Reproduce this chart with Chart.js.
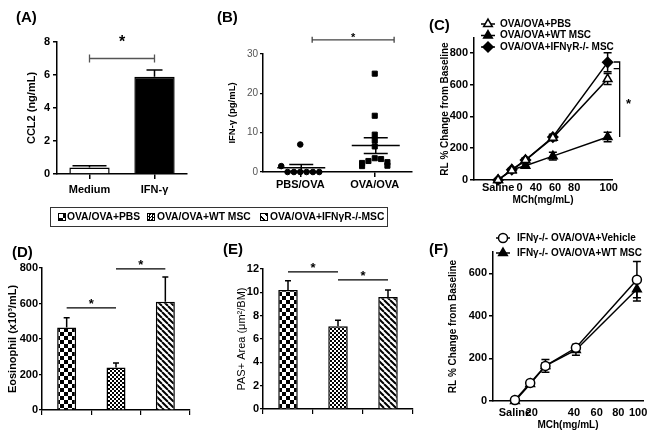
<!DOCTYPE html>
<html>
<head>
<meta charset="utf-8">
<script src="https://cdn.jsdelivr.net/npm/chart.js@4"></script>
<style>
body { margin: 0; background: #fff; width: 654px; height: 439px; position: relative; overflow: hidden; font-family: "Liberation Sans", Arial, sans-serif; }
canvas { position: absolute; }
.tag { position: absolute; font-weight: bold; font-size: 15px; line-height: 15px; }
#key { position: absolute; left: 50px; top: 207px; width: 336px; height: 18px; border: 1px solid #333; font-weight: bold; font-size: 10.3px; white-space: nowrap; }
#key span { position: absolute; top: 3px; line-height: 12px; }
#key i { position: absolute; top: 5px; width: 6px; height: 6px; border: 1px solid #000; }
.k1 { background: conic-gradient(#000 0 25%, #fff 0 50%, #000 0 75%, #fff 0) 0 0/8px 8px; }
.k2 { background: conic-gradient(#000 0 25%, #fff 0 50%, #000 0 75%, #fff 0) 0 0/3px 3px; }
.k3 { background: repeating-linear-gradient(45deg, #fff 0 2px, #000 2px 3.5px, #fff 3.5px 5px); }
</style>
</head>
<body>
<canvas id="chartA"></canvas>
<canvas id="chartB"></canvas>
<canvas id="chartC"></canvas>
<canvas id="chartD"></canvas>
<canvas id="chartE"></canvas>
<canvas id="chartF"></canvas>

<div class="tag" style="left:16px;top:9px">(A)</div>
<div class="tag" style="left:217px;top:9px">(B)</div>
<div class="tag" style="left:429px;top:17px">(C)</div>
<div class="tag" style="left:12px;top:244px">(D)</div>
<div class="tag" style="left:223px;top:241px">(E)</div>
<div class="tag" style="left:429px;top:241px">(F)</div>

<div id="key">
  <i class="k1" style="left:7px"></i><span style="left:16px">OVA/OVA+PBS</span>
  <i class="k2" style="left:96px"></i><span style="left:106px">OVA/OVA+WT MSC</span>
  <i class="k3" style="left:209px"></i><span style="left:219px">OVA/OVA+IFNγR-/-MSC</span>
</div>

<script>
// (A) CCL2
const aLabels = ["Medium", "IFN-γ"];
const aValues = [0.4, 5.9];
const aErr = [0.1, 0.4];

// (B) IFN-γ dot plot
const bLabels = ["PBS/OVA", "OVA/OVA"];
const bPbs = [7, 0, 0, 0, 0, 0, 0, 1.5];
const bOva = [25, 14.3, 9.5, 8, 6.5, 3.5, 3.3, 2.8, 2.5, 2.3, 1.6, 1.5];

// (C) airway resistance
const cDose = [0, 12.5, 25, 50, 100];
const cPbs = [0, 60, 125, 265, 635];
const cPbsErr = [0, 8, 12, 18, 35];
const cWt = [0, 65, 90, 150, 270];
const cWtErr = [0, 8, 10, 25, 30];
const cKo = [0, 65, 125, 270, 740];
const cKoErr = [0, 8, 12, 18, 60];
const cTicks = [0, 19.5, 34.5, 52, 69.5, 101];
const cTickText = ["Saline", "0", "40", "60", "80", "100"];

// (D) (E) groups
const groups = ["OVA/OVA+PBS", "OVA/OVA+WT MSC", "OVA/OVA+IFNγR-/-MSC"];
const dValues = [465, 240, 610];
const dErr = [55, 25, 140];
const eValues = [10.2, 7.1, 9.6];
const eErr = [0.8, 0.5, 0.6];

// (F) IFNγ-/- mice
const fDose = [0, 12.5, 25, 50, 100];
const fVeh = [5, 85, 165, 250, 570];
const fVehErr = [0, 10, 15, 15, 85];
const fWt = [0, 80, 165, 240, 525];
const fWtErr = [0, 10, 30, 25, 55];
const fTicks = [0, 13.7, 48.4, 67, 84.7, 101];
const fTickText = ["Saline", "20", "40", "60", "80", "100"];

const FAM = "'Liberation Sans', Arial, sans-serif";
const font = (size, weight) => ({ family: FAM, size: size, weight: weight || "bold" });
Chart.defaults.font.family = FAM;
Chart.defaults.color = "#000";

function pattern(size, draw) {
    const c = document.createElement("canvas");
    c.width = c.height = size;
    const g = c.getContext("2d");
    g.fillStyle = "#fff"; g.fillRect(0, 0, size, size);
    g.fillStyle = "#000"; g.strokeStyle = "#000";
    draw(g, size);
    return g.createPattern(c, "repeat");
}
const checker = pattern(8, g => { g.fillRect(0, 0, 4, 4); g.fillRect(4, 4, 4, 4); });
const fine = pattern(4, g => { g.fillRect(0, 0, 2, 2); g.fillRect(2, 2, 2, 2); });
const stripes = pattern(6, (g, s) => {
    g.lineWidth = 2;
    [-s, 0, s].forEach(o => { g.beginPath(); g.moveTo(o, 0); g.lineTo(o + s, s); g.stroke(); });
});

function yOf(v) { return typeof v === "object" ? v.y : v; }

function drawErrors(chart, bars) {
    const ctx = chart.ctx, ys = chart.scales.y;
    chart.data.datasets.forEach((ds, di) => {
        if (!ds.err || (chart.config.type === "bar") !== bars) return;
        ctx.save();
        ctx.strokeStyle = "#000"; ctx.lineWidth = 1.5;
        chart.getDatasetMeta(di).data.forEach((el, i) => {
            const e = ds.err[i];
            if (!e) return;
            const v = yOf(ds.data[i]);
            const cap = Array.isArray(ds.cap) ? ds.cap[i] : (ds.cap || 3);
            const top = ys.getPixelForValue(v + e);
            const bot = ds.errBoth ? ys.getPixelForValue(v - e) : el.y;
            ctx.beginPath();
            ctx.moveTo(el.x, bot); ctx.lineTo(el.x, top);
            ctx.moveTo(el.x - cap, top); ctx.lineTo(el.x + cap, top);
            if (ds.errBoth) { ctx.moveTo(el.x - cap, bot); ctx.lineTo(el.x + cap, bot); }
            ctx.stroke();
        });
        ctx.restore();
    });
}

function star(ctx, x, y, size) {
    ctx.fillStyle = "#000";
    ctx.font = "bold " + size + "px " + FAM;
    ctx.textAlign = "center"; ctx.textBaseline = "alphabetic";
    ctx.fillText("*", x, y + size * 0.56);
}

const extras = {
    id: "extras",
    beforeDatasetsDraw(chart) { drawErrors(chart, false); },
    afterDatasetsDraw(chart, args, o) {
        drawErrors(chart, true);
        const ctx = chart.ctx, xs = chart.scales.x, ys = chart.scales.y;
        ctx.save();
        (o.brackets || []).forEach(b => {
            const x1 = xs.getPixelForValue(b.from), x2 = xs.getPixelForValue(b.to), yy = ys.getPixelForValue(b.at);
            ctx.strokeStyle = b.color || "#000"; ctx.lineWidth = 1.3;
            ctx.beginPath();
            ctx.moveTo(x1, yy); ctx.lineTo(x2, yy);
            if (b.ends) {
                ctx.moveTo(x1, yy - b.ends); ctx.lineTo(x1, yy + b.ends);
                ctx.moveTo(x2, yy - b.ends); ctx.lineTo(x2, yy + b.ends);
            }
            ctx.stroke();
            star(ctx, (x1 + x2) / 2, yy - b.lift, b.size);
        });
        if (o.vbracket) {
            const v = o.vbracket, xp = xs.getPixelForValue(v.x);
            ctx.strokeStyle = "#000"; ctx.lineWidth = 1.3;
            ctx.beginPath();
            ctx.moveTo(xp - v.armLen, ys.getPixelForValue(v.to));
            ctx.lineTo(xp, ys.getPixelForValue(v.to));
            ctx.lineTo(xp, ys.getPixelForValue(v.from));
            ctx.moveTo(xp - v.armLen, ys.getPixelForValue(v.arm));
            ctx.lineTo(xp, ys.getPixelForValue(v.arm));
            ctx.stroke();
            star(ctx, xs.getPixelForValue(v.starX), ys.getPixelForValue(v.starY), v.size);
        }
        if (o.meanSem) {
            chart.data.datasets.forEach((ds, di) => {
                const vals = ds.data.map(yOf), n = vals.length;
                const m = vals.reduce((a, b) => a + b, 0) / n;
                const sd = Math.sqrt(vals.reduce((a, b) => a + (b - m) * (b - m), 0) / (n - 1));
                const se = sd / Math.sqrt(n);
                const cx = xs.getPixelForValue(di + 1) + 1;
                const ym = ys.getPixelForValue(m), yt = ys.getPixelForValue(m + se), yb = ys.getPixelForValue(m - se);
                ctx.strokeStyle = "#000"; ctx.lineWidth = 1.5;
                ctx.beginPath();
                ctx.moveTo(cx - 24, ym); ctx.lineTo(cx + 24, ym);
                ctx.moveTo(cx, yt); ctx.lineTo(cx, yb);
                ctx.moveTo(cx - 12, yt); ctx.lineTo(cx + 12, yt);
                ctx.moveTo(cx - 12, yb); ctx.lineTo(cx + 12, yb);
                ctx.stroke();
            });
        }
        if (o.legend) {
            const L = o.legend;
            chart.data.datasets.forEach((ds, i) => {
                const x = L.x, y = L.y + i * L.gap;
                ctx.strokeStyle = "#000"; ctx.lineWidth = 1.5;
                ctx.beginPath(); ctx.moveTo(x - 7, y); ctx.lineTo(x + 7, y); ctx.stroke();
                ctx.fillStyle = ds.pointBackgroundColor;
                Chart.helpers.drawPoint(ctx, { pointStyle: ds.pointStyle, radius: ds.pointRadius, borderWidth: 1.5, rotation: 0 }, x, y);
                ctx.fillStyle = "#000";
                ctx.font = "bold " + L.size + "px " + FAM;
                ctx.textAlign = "left"; ctx.textBaseline = "middle";
                ctx.fillText(ds.label, x + L.text, y);
            });
        }
        ctx.restore();
    }
};
Chart.register(extras);

function axis(extra) {
    return Object.assign({
        grid: { drawOnChartArea: false, color: "#000", lineWidth: 1.5, tickLength: 4 },
        border: { color: "#000", width: 1.5 }
    }, extra);
}

function panel(id, box, area, cfg) {
    const cv = document.getElementById(id);
    cv.width = box.w; cv.height = box.h;
    cv.style.left = box.x + "px"; cv.style.top = box.y + "px";
    cfg.options.responsive = false;
    cfg.options.animation = false;
    cfg.options.layout = { padding: { left: 0, top: area.t - box.y, right: box.x + box.w - area.r, bottom: 0 } };
    cfg.options.plugins.legend = { display: false };
    cfg.options.plugins.tooltip = { enabled: false };
    cfg.options.scales.x.afterFit = s => { s.height = box.y + box.h - area.b; s.paddingLeft = 0; s.paddingRight = 0; };
    cfg.options.scales.y.afterFit = s => { s.width = area.l - box.x; s.paddingTop = 0; s.paddingBottom = 0; };
    return new Chart(cv, cfg);
}

function spread(vals, center, near, step) {
    const placed = [];
    return vals.map(v => {
        const k = placed.filter(p => Math.abs(p - v) < near).length;
        placed.push(v);
        return { x: center + Math.ceil(k / 2) * (k % 2 ? 1 : -1) * step, y: v };
    });
}

function lineSet(label, xs, ys, err, style, fill, r) {
    return {
        label: label, data: xs.map((x, i) => ({ x: x, y: ys[i] })), err: err, errBoth: true, cap: 4,
        borderColor: "#000", borderWidth: 1.5, tension: 0, clip: false,
        pointStyle: style, pointRadius: r, pointBackgroundColor: fill, pointBorderColor: "#000", pointBorderWidth: 1.5
    };
}

// (A)
panel("chartA", { x: 0, y: 0, w: 205, h: 205 }, { l: 57, t: 42, r: 187, b: 174 }, {
    type: "bar",
    data: { labels: aLabels, datasets: [{ data: aValues, err: aErr, cap: [17, 8],
        backgroundColor: ["#fff", "#000"], borderColor: "#000", borderWidth: 1.5,
        barPercentage: 0.62, categoryPercentage: 1 }] },
    options: {
        plugins: { extras: { brackets: [{ from: 0, to: 1, at: 7, ends: 4, color: "#555", lift: 20, size: 16 }] } },
        scales: {
            x: axis({ grid: { offset: false, drawOnChartArea: false, color: "#000", lineWidth: 1.5, tickLength: 5 },
                ticks: { font: font(11), color: "#000", padding: 4, maxRotation: 0 } }),
            y: axis({ min: 0, max: 8, ticks: { stepSize: 2, font: font(11), color: "#000", padding: 3 },
                title: { display: true, text: "CCL2 (ng/mL)", font: font(11), color: "#000", padding: { top: 25, bottom: 0 } } })
        }
    }
});

// (B)
panel("chartB", { x: 200, y: 0, w: 220, h: 205 }, { l: 263, t: 54, r: 412, b: 172 }, {
    type: "scatter",
    data: { datasets: [
        { data: spread(bPbs, 1, 1.6, 0.085), pointStyle: "circle", pointRadius: 2.8, backgroundColor: "#000", borderColor: "#000", clip: false },
        { data: spread(bOva, 2, 1.4, 0.085), pointStyle: "rect", pointRadius: 3.6, backgroundColor: "#000", borderColor: "#000", clip: false }
    ] },
    options: {
        plugins: { extras: { meanSem: true, brackets: [{ from: 1.16, to: 2.26, at: 33.6, ends: 3, color: "#444", lift: 5, size: 11 }] } },
        scales: {
            x: axis({ type: "linear", min: 0.5, max: 2.5,
                afterBuildTicks: s => { s.ticks = [{ value: 1 }, { value: 2 }]; },
                grid: { drawOnChartArea: false, color: "#000", lineWidth: 1.5, tickLength: 5 },
                ticks: { font: font(11), color: "#000", padding: 1, maxRotation: 0, autoSkip: false, callback: v => bLabels[v - 1] } }),
            y: axis({ min: 0, max: 30, grid: { drawOnChartArea: false, color: "#000", lineWidth: 1.2, tickLength: 3 },
                ticks: { stepSize: 10, font: font(10, "normal"), color: "#555", padding: 2 },
                title: { display: true, text: "IFN-γ (pg/mL)", font: font(9.5), color: "#000", padding: { top: 27, bottom: 0 } } })
        }
    }
});

// (C)
panel("chartC", { x: 420, y: 0, w: 234, h: 210 }, { l: 474, t: 38, r: 612, b: 180 }, {
    type: "line",
    data: { datasets: [
        lineSet("OVA/OVA+PBS", cDose, cPbs, cPbsErr, "triangle", "#fff", 5),
        lineSet("OVA/OVA+WT MSC", cDose, cWt, cWtErr, "triangle", "#000", 5),
        lineSet("OVA/OVA+IFNγR-/- MSC", cDose, cKo, cKoErr, "rectRot", "#000", 5)
    ] },
    options: {
        plugins: { extras: {
            legend: { x: 68, y: 24, gap: 11.5, size: 10, text: 12 },
            vbracket: { x: 111, from: 270, to: 742, arm: 700, armLen: 6, starX: 119, starY: 500, size: 13 }
        } },
        scales: {
            x: axis({ type: "linear", min: -22, max: 104,
                afterBuildTicks: s => { s.ticks = cTicks.map(v => ({ value: v })); },
                grid: { drawOnChartArea: false, drawTicks: false, color: "#000" },
                ticks: { font: font(11), color: "#000", padding: 1, maxRotation: 0, autoSkip: false, callback: (v, i) => cTickText[i] },
                title: { display: true, text: "MCh(mg/mL)", font: font(10), color: "#000", padding: { top: 0, bottom: 4 } } }),
            y: axis({ min: 0, max: 893, ticks: { stepSize: 200, includeBounds: false, font: font(11), color: "#000", padding: 2 },
                title: { display: true, text: "RL % Change from Baseline", font: font(10), color: "#000", padding: { top: 19, bottom: 0 } } })
        }
    }
});

// (D)
panel("chartD", { x: 0, y: 240, w: 205, h: 199 }, { l: 42, t: 268, r: 190, b: 410 }, {
    type: "bar",
    data: { labels: groups, datasets: [{ data: dValues, err: dErr, cap: 3,
        backgroundColor: [checker, fine, stripes], borderColor: "#000", borderWidth: 1.5,
        barPercentage: 0.385, categoryPercentage: 1 }] },
    options: {
        plugins: { extras: { brackets: [
            { from: 0, to: 1, at: 575, lift: 7, size: 13 },
            { from: 1, to: 2, at: 795, lift: 7, size: 13 }
        ] } },
        scales: {
            x: axis({ grid: { offset: true, drawOnChartArea: false, color: "#000", lineWidth: 1.2, tickLength: 5 }, ticks: { display: false } }),
            y: axis({ min: 0, max: 800, grid: { drawOnChartArea: false, color: "#000", lineWidth: 1.2, tickLength: 3 },
                ticks: { stepSize: 200, font: font(11), color: "#000", padding: 1 },
                title: { display: true, text: "Eosinophil (x10³/mL)", font: font(11), color: "#000", padding: { top: 6.4, bottom: 0 } } })
        }
    }
});

// (E)
panel("chartE", { x: 210, y: 240, w: 220, h: 199 }, { l: 263, t: 269, r: 413, b: 409 }, {
    type: "bar",
    data: { labels: groups, datasets: [{ data: eValues, err: eErr, cap: 3,
        backgroundColor: [checker, fine, stripes], borderColor: "#000", borderWidth: 1.5,
        barPercentage: 0.39, categoryPercentage: 1 }] },
    options: {
        plugins: { extras: { brackets: [
            { from: 0, to: 1, at: 11.75, lift: 7, size: 13 },
            { from: 1, to: 2, at: 11.06, lift: 7, size: 13 }
        ] } },
        scales: {
            x: axis({ grid: { offset: true, drawOnChartArea: false, color: "#000", lineWidth: 1.2, tickLength: 5 }, ticks: { display: false } }),
            y: axis({ min: 0, max: 12, grid: { drawOnChartArea: false, color: "#000", lineWidth: 1.2, tickLength: 3 },
                ticks: { stepSize: 2, font: font(11), color: "#000", padding: 1 },
                title: { display: true, text: "PAS+ Area (μm²/BM)", font: font(11, "normal"), color: "#000", padding: { top: 25.4, bottom: 0 } } })
        }
    }
});

// (F)
panel("chartF", { x: 430, y: 225, w: 224, h: 214 }, { l: 493, t: 252, r: 643, b: 401 }, {
    type: "line",
    data: { datasets: [
        lineSet("IFNγ-/- OVA/OVA+Vehicle", fDose, fVeh, fVehErr, "circle", "#fff", 4.5),
        lineSet("IFNγ-/- OVA/OVA+WT MSC", fDose, fWt, fWtErr, "triangle", "#000", 5)
    ] },
    options: {
        plugins: { extras: { legend: { x: 73, y: 13, gap: 15, size: 10, text: 14 } } },
        scales: {
            x: axis({ type: "linear", min: -18, max: 105,
                afterBuildTicks: s => { s.ticks = fTicks.map(v => ({ value: v })); },
                grid: { drawOnChartArea: false, drawTicks: false, color: "#000" },
                ticks: { font: font(11), color: "#000", padding: 5, maxRotation: 0, autoSkip: false, callback: (v, i) => fTickText[i] },
                title: { display: true, text: "MCh(mg/mL)", font: font(10), color: "#000", padding: { top: 0, bottom: 8 } } }),
            y: axis({ min: 0, max: 700, ticks: { stepSize: 200, includeBounds: false, font: font(11), color: "#000", padding: 2 },
                title: { display: true, text: "RL % Change from Baseline", font: font(10), color: "#000", padding: { top: 17, bottom: 0 } } })
        }
    }
});
</script>
</body>
</html>
